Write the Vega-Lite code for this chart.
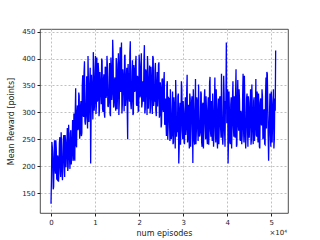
{
"$schema":"https://vega.github.io/schema/vega-lite/v6.json",
"autosize":"none",
"width":248,"height":184,
"padding":{"left":40,"top":29,"right":32,"bottom":27},
"background":"white",
"config":{"view":{"stroke":"#222","strokeWidth":0.8},"font":"DejaVu Sans"},
"title":{"text":"×10⁴","orient":"bottom","anchor":"end","fontSize":7,"fontWeight":"normal","color":"#222","offset":-8,"dx":-1},
"data":{"values":[
{"x":0,"y":130},{"x":200,"y":245},{"x":400,"y":213},{"x":600,"y":162},{"x":800,"y":248},{"x":1000,"y":186},{"x":1200,"y":232},{"x":1400,"y":175},{"x":1600,"y":215},{"x":1800,"y":187},
{"x":2000,"y":254},{"x":2200,"y":180},{"x":2400,"y":238},{"x":2600,"y":174},{"x":2800,"y":250},{"x":3000,"y":212},{"x":3200,"y":258},{"x":3400,"y":198},{"x":3600,"y":241},{"x":3800,"y":191},
{"x":4000,"y":277},{"x":4200,"y":215},{"x":4400,"y":261},{"x":4600,"y":203},{"x":4800,"y":244},{"x":5000,"y":210},{"x":5200,"y":298},{"x":5400,"y":210},{"x":5600,"y":345},{"x":5800,"y":235},
{"x":6000,"y":313},{"x":6200,"y":270},{"x":6400,"y":331},{"x":6600,"y":261},{"x":6800,"y":321},{"x":7000,"y":262},{"x":7200,"y":369},{"x":7400,"y":292},{"x":7600,"y":395},{"x":7800,"y":277},
{"x":8000,"y":328},{"x":8200,"y":292},{"x":8400,"y":405},{"x":8600,"y":282},{"x":8800,"y":354},{"x":9000,"y":205},{"x":9200,"y":370},{"x":9400,"y":322},{"x":9600,"y":412},{"x":9800,"y":303},
{"x":10000,"y":363},{"x":10200,"y":297},{"x":10400,"y":402},{"x":10600,"y":323},{"x":10800,"y":378},{"x":11000,"y":304},{"x":11200,"y":353},{"x":11400,"y":315},{"x":11600,"y":396},{"x":11800,"y":301},
{"x":12000,"y":371},{"x":12200,"y":290},{"x":12400,"y":383},{"x":12600,"y":333},{"x":12800,"y":387},{"x":13000,"y":310},{"x":13200,"y":363},{"x":13400,"y":297},{"x":13600,"y":402},{"x":13800,"y":323},
{"x":14000,"y":435},{"x":14200,"y":309},{"x":14400,"y":358},{"x":14600,"y":320},{"x":14800,"y":401},{"x":15000,"y":306},{"x":15200,"y":376},{"x":15400,"y":295},{"x":15600,"y":388},{"x":15800,"y":338},
{"x":16000,"y":430},{"x":16200,"y":315},{"x":16400,"y":368},{"x":16600,"y":302},{"x":16800,"y":407},{"x":17000,"y":328},{"x":17200,"y":383},{"x":17400,"y":250},{"x":17600,"y":358},{"x":17800,"y":320},
{"x":18000,"y":432},{"x":18200,"y":306},{"x":18400,"y":376},{"x":18600,"y":295},{"x":18800,"y":388},{"x":19000,"y":338},{"x":19200,"y":392},{"x":19400,"y":315},{"x":19600,"y":368},{"x":19800,"y":302},
{"x":20000,"y":407},{"x":20200,"y":328},{"x":20400,"y":383},{"x":20600,"y":309},{"x":20800,"y":358},{"x":21000,"y":320},{"x":21200,"y":425},{"x":21400,"y":306},{"x":21600,"y":376},{"x":21800,"y":295},
{"x":22000,"y":383},{"x":22200,"y":333},{"x":22400,"y":387},{"x":22600,"y":310},{"x":22800,"y":363},{"x":23000,"y":297},{"x":23200,"y":402},{"x":23400,"y":323},{"x":23600,"y":378},{"x":23800,"y":304},
{"x":24000,"y":353},{"x":24200,"y":311},{"x":24400,"y":389},{"x":24600,"y":290},{"x":24800,"y":356},{"x":25000,"y":272},{"x":25200,"y":361},{"x":25400,"y":307},{"x":25600,"y":357},{"x":25800,"y":277},
{"x":26000,"y":326},{"x":26200,"y":256},{"x":26400,"y":358},{"x":26600,"y":275},{"x":26800,"y":326},{"x":27000,"y":247},{"x":27200,"y":296},{"x":27400,"y":258},{"x":27600,"y":339},{"x":27800,"y":244},
{"x":28000,"y":314},{"x":28200,"y":233},{"x":28400,"y":326},{"x":28600,"y":276},{"x":28800,"y":330},{"x":29000,"y":205},{"x":29200,"y":306},{"x":29400,"y":240},{"x":29600,"y":358},{"x":29800,"y":266},
{"x":30000,"y":321},{"x":30200,"y":247},{"x":30400,"y":296},{"x":30600,"y":258},{"x":30800,"y":339},{"x":31000,"y":244},{"x":31200,"y":314},{"x":31400,"y":233},{"x":31600,"y":326},{"x":31800,"y":276},
{"x":32000,"y":330},{"x":32200,"y":206},{"x":32400,"y":306},{"x":32600,"y":240},{"x":32800,"y":362},{"x":33000,"y":266},{"x":33200,"y":321},{"x":33400,"y":247},{"x":33600,"y":296},{"x":33800,"y":258},
{"x":34000,"y":339},{"x":34200,"y":244},{"x":34400,"y":314},{"x":34600,"y":233},{"x":34800,"y":326},{"x":35000,"y":276},{"x":35200,"y":330},{"x":35400,"y":253},{"x":35600,"y":306},{"x":35800,"y":240},
{"x":36000,"y":355},{"x":36200,"y":266},{"x":36400,"y":321},{"x":36600,"y":247},{"x":36800,"y":296},{"x":37000,"y":258},{"x":37200,"y":365},{"x":37400,"y":244},{"x":37600,"y":314},{"x":37800,"y":233},
{"x":38000,"y":326},{"x":38200,"y":276},{"x":38400,"y":330},{"x":38600,"y":253},{"x":38800,"y":306},{"x":39000,"y":240},{"x":39200,"y":368},{"x":39400,"y":266},{"x":39600,"y":321},{"x":39800,"y":430},
{"x":40000,"y":296},{"x":40200,"y":205},{"x":40400,"y":339},{"x":40600,"y":244},{"x":40800,"y":314},{"x":41000,"y":233},{"x":41200,"y":326},{"x":41400,"y":276},{"x":41600,"y":330},{"x":41800,"y":253},
{"x":42000,"y":380},{"x":42200,"y":240},{"x":42400,"y":360},{"x":42600,"y":266},{"x":42800,"y":321},{"x":43000,"y":247},{"x":43200,"y":296},{"x":43400,"y":258},{"x":43600,"y":372},{"x":43800,"y":244},
{"x":44000,"y":314},{"x":44200,"y":233},{"x":44400,"y":326},{"x":44600,"y":276},{"x":44800,"y":330},{"x":45000,"y":253},{"x":45200,"y":306},{"x":45400,"y":240},{"x":45600,"y":352},{"x":45800,"y":266},
{"x":46000,"y":321},{"x":46200,"y":247},{"x":46400,"y":296},{"x":46600,"y":258},{"x":46800,"y":339},{"x":47000,"y":244},{"x":47200,"y":314},{"x":47400,"y":233},{"x":47600,"y":326},{"x":47800,"y":276},
{"x":48000,"y":330},{"x":48200,"y":253},{"x":48400,"y":306},{"x":48600,"y":240},{"x":48800,"y":365},{"x":49000,"y":375},{"x":49200,"y":321},{"x":49400,"y":210},{"x":49600,"y":296},{"x":49800,"y":258},
{"x":50000,"y":339},{"x":50200,"y":244},{"x":50400,"y":314},{"x":50600,"y":233},{"x":50800,"y":326},{"x":51000,"y":415},
{"x":100,"y":175},{"x":300,"y":235},{"x":500,"y":157},{"x":700,"y":224},{"x":900,"y":196},{"x":1100,"y":248},{"x":1300,"y":176},{"x":1500,"y":220},{"x":1700,"y":171},{"x":1900,"y":243},
{"x":2100,"y":199},{"x":2300,"y":263},{"x":2500,"y":191},{"x":2700,"y":198},{"x":2900,"y":258},{"x":3100,"y":180},{"x":3300,"y":248},{"x":3500,"y":220},{"x":3700,"y":271},{"x":3900,"y":199},
{"x":4100,"y":243},{"x":4300,"y":195},{"x":4500,"y":267},{"x":4700,"y":222},{"x":4900,"y":286},{"x":5100,"y":215},{"x":5300,"y":222},{"x":5500,"y":301},{"x":5700,"y":240},{"x":5900,"y":298},
{"x":6100,"y":267},{"x":6300,"y":337},{"x":6500,"y":251},{"x":6700,"y":311},{"x":6900,"y":256},{"x":7100,"y":350},{"x":7300,"y":294},{"x":7500,"y":374},{"x":7700,"y":283},{"x":7900,"y":293},
{"x":8100,"y":367},{"x":8300,"y":270},{"x":8500,"y":354},{"x":8700,"y":318},{"x":8900,"y":383},{"x":9100,"y":292},{"x":9300,"y":347},{"x":9500,"y":287},{"x":9700,"y":376},{"x":9900,"y":320},
{"x":10100,"y":405},{"x":10300,"y":312},{"x":10500,"y":320},{"x":10700,"y":392},{"x":10900,"y":293},{"x":11100,"y":375},{"x":11300,"y":337},{"x":11500,"y":400},{"x":11700,"y":307},{"x":11900,"y":360},
{"x":12100,"y":298},{"x":12300,"y":385},{"x":12500,"y":327},{"x":12700,"y":405},{"x":12900,"y":312},{"x":13100,"y":320},{"x":13300,"y":392},{"x":13500,"y":293},{"x":13700,"y":375},{"x":13900,"y":337},
{"x":14100,"y":405},{"x":14300,"y":312},{"x":14500,"y":365},{"x":14700,"y":303},{"x":14900,"y":390},{"x":15100,"y":332},{"x":15300,"y":410},{"x":15500,"y":317},{"x":15700,"y":421},{"x":15900,"y":397},
{"x":16100,"y":298},{"x":16300,"y":380},{"x":16500,"y":342},{"x":16700,"y":405},{"x":16900,"y":312},{"x":17100,"y":365},{"x":17300,"y":303},{"x":17500,"y":390},{"x":17700,"y":332},{"x":17900,"y":410},
{"x":18100,"y":317},{"x":18300,"y":325},{"x":18500,"y":397},{"x":18700,"y":298},{"x":18900,"y":380},{"x":19100,"y":342},{"x":19300,"y":405},{"x":19500,"y":312},{"x":19700,"y":365},{"x":19900,"y":303},
{"x":20100,"y":390},{"x":20300,"y":332},{"x":20500,"y":410},{"x":20700,"y":317},{"x":20900,"y":325},{"x":21100,"y":397},{"x":21300,"y":298},{"x":21500,"y":380},{"x":21700,"y":342},{"x":21900,"y":405},
{"x":22100,"y":307},{"x":22300,"y":360},{"x":22500,"y":298},{"x":22700,"y":385},{"x":22900,"y":327},{"x":23100,"y":405},{"x":23300,"y":312},{"x":23500,"y":320},{"x":23700,"y":392},{"x":23900,"y":293},
{"x":24100,"y":375},{"x":24300,"y":333},{"x":24500,"y":393},{"x":24700,"y":296},{"x":24900,"y":345},{"x":25100,"y":280},{"x":25300,"y":363},{"x":25500,"y":301},{"x":25700,"y":375},{"x":25900,"y":279},
{"x":26100,"y":283},{"x":26300,"y":351},{"x":26500,"y":249},{"x":26700,"y":327},{"x":26900,"y":285},{"x":27100,"y":343},{"x":27300,"y":250},{"x":27500,"y":303},{"x":27700,"y":241},{"x":27900,"y":328},
{"x":28100,"y":270},{"x":28300,"y":360},{"x":28500,"y":255},{"x":28700,"y":263},{"x":28900,"y":335},{"x":29100,"y":236},{"x":29300,"y":318},{"x":29500,"y":280},{"x":29700,"y":343},{"x":29900,"y":250},
{"x":30100,"y":303},{"x":30300,"y":241},{"x":30500,"y":328},{"x":30700,"y":270},{"x":30900,"y":370},{"x":31100,"y":255},{"x":31300,"y":263},{"x":31500,"y":335},{"x":31700,"y":236},{"x":31900,"y":318},
{"x":32100,"y":280},{"x":32300,"y":343},{"x":32500,"y":250},{"x":32700,"y":303},{"x":32900,"y":241},{"x":33100,"y":328},{"x":33300,"y":270},{"x":33500,"y":352},{"x":33700,"y":255},{"x":33900,"y":263},
{"x":34100,"y":335},{"x":34300,"y":236},{"x":34500,"y":318},{"x":34700,"y":280},{"x":34900,"y":343},{"x":35100,"y":250},{"x":35300,"y":303},{"x":35500,"y":241},{"x":35700,"y":328},{"x":35900,"y":270},
{"x":36100,"y":366},{"x":36300,"y":255},{"x":36500,"y":263},{"x":36700,"y":335},{"x":36900,"y":236},{"x":37100,"y":318},{"x":37300,"y":280},{"x":37500,"y":343},{"x":37700,"y":250},{"x":37900,"y":303},
{"x":38100,"y":241},{"x":38300,"y":328},{"x":38500,"y":270},{"x":38700,"y":372},{"x":38900,"y":255},{"x":39100,"y":263},{"x":39300,"y":335},{"x":39500,"y":236},{"x":39700,"y":318},{"x":39900,"y":280},
{"x":40100,"y":343},{"x":40300,"y":250},{"x":40500,"y":303},{"x":40700,"y":241},{"x":40900,"y":328},{"x":41100,"y":270},{"x":41300,"y":358},{"x":41500,"y":255},{"x":41700,"y":263},{"x":41900,"y":335},
{"x":42100,"y":236},{"x":42300,"y":318},{"x":42500,"y":280},{"x":42700,"y":343},{"x":42900,"y":250},{"x":43100,"y":303},{"x":43300,"y":241},{"x":43500,"y":328},{"x":43700,"y":270},{"x":43900,"y":368},
{"x":44100,"y":255},{"x":44300,"y":263},{"x":44500,"y":335},{"x":44700,"y":236},{"x":44900,"y":318},{"x":45100,"y":280},{"x":45300,"y":343},{"x":45500,"y":250},{"x":45700,"y":303},{"x":45900,"y":241},
{"x":46100,"y":328},{"x":46300,"y":270},{"x":46500,"y":362},{"x":46700,"y":255},{"x":46900,"y":263},{"x":47100,"y":335},{"x":47300,"y":236},{"x":47500,"y":318},{"x":47700,"y":280},{"x":47900,"y":343},
{"x":48100,"y":250},{"x":48300,"y":303},{"x":48500,"y":241},{"x":48700,"y":328},{"x":48900,"y":270},{"x":49100,"y":372},{"x":49300,"y":255},{"x":49500,"y":263},{"x":49700,"y":335},{"x":49900,"y":236},
{"x":50100,"y":318},{"x":50300,"y":280},{"x":50500,"y":343},{"x":50700,"y":250},{"x":50900,"y":303}
]},
"mark":{"type":"line","color":"#0000ff","strokeWidth":1.3,"clip":true},
"encoding":{
"x":{"field":"x","type":"quantitative","scale":{"domain":[-2500,53800],"nice":false,"zero":false},
"axis":{"values":[0,10000,20000,30000,40000,50000],"labelExpr":"datum.value/10000","title":"num episodes","titleFontSize":8,"titleFontWeight":"normal","titleColor":"#222","titlePadding":4,"labelFontSize":7,"labelColor":"#222","tickColor":"#222","tickSize":3,"domain":false,"grid":true,"gridColor":"#b0b0b0","gridDash":[2,2],"gridWidth":0.8,"labelPadding":2}},
"y":{"field":"y","type":"quantitative","scale":{"domain":[113,455],"nice":false,"zero":false},
"axis":{"values":[150,200,250,300,350,400,450],"title":"Mean Reward [points]","titleFontSize":8,"titleFontWeight":"normal","titleColor":"#222","titlePadding":6,"labelFontSize":7,"labelColor":"#222","tickColor":"#222","tickSize":3,"domain":false,"grid":true,"gridColor":"#b0b0b0","gridDash":[2,2],"gridWidth":0.8,"labelPadding":2}}
}
}
